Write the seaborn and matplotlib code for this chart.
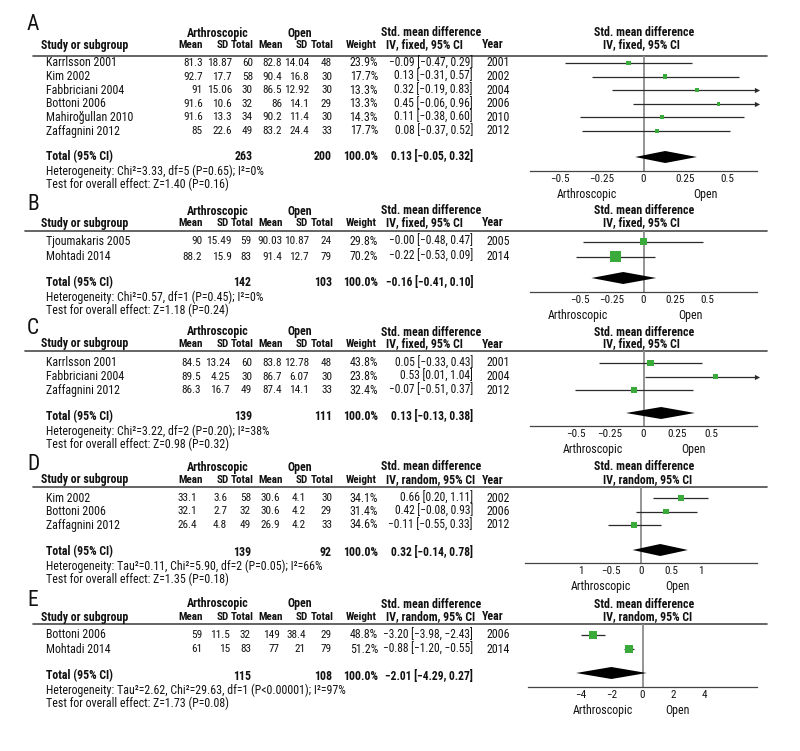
import os
import numpy as np
import pandas as pd
import matplotlib
matplotlib.use('Agg')
import matplotlib.pyplot as plt
import seaborn as sns
from matplotlib import font_manager
from matplotlib.font_manager import FontProperties

# ---------------- data ----------------
# A: fixed effect
A_study = ['Karrlsson 2001', 'Kim 2002', 'Fabbriciani 2004', 'Bottoni 2006', 'Mahiroğullan 2010', 'Zaffagnini 2012']
A_arth_mean = [81.3, 92.7, 91, 91.6, 91.6, 85]
A_arth_sd = [18.87, 17.7, 15.06, 10.6, 13.3, 22.6]
A_arth_n = [60, 58, 30, 32, 34, 49]
A_open_mean = [82.8, 90.4, 86.5, 86, 90.2, 83.2]
A_open_sd = [14.04, 16.8, 12.92, 14.1, 11.4, 24.4]
A_open_n = [48, 30, 30, 29, 30, 33]
A_weight = [23.9, 17.7, 13.3, 13.3, 14.3, 17.7]
A_smd = [-0.09, 0.13, 0.32, 0.45, 0.11, 0.08]
A_lo = [-0.47, -0.31, -0.19, -0.06, -0.38, -0.37]
A_hi = [0.29, 0.57, 0.83, 0.96, 0.60, 0.52]
A_year = [2001, 2002, 2004, 2006, 2010, 2012]
A_total = (263, 200, 0.13, -0.05, 0.32)
A_het = 'Heterogeneity: Chi²=3.33, df=5 (P=0.65); I²=0%'
A_z = 'Test for overall effect: Z=1.40 (P=0.16)'

# B: fixed effect
B_study = ['Tjoumakaris 2005', 'Mohtadi 2014']
B_arth_mean = [90, 88.2]
B_arth_sd = [15.49, 15.9]
B_arth_n = [59, 83]
B_open_mean = [90.03, 91.4]
B_open_sd = [10.87, 12.7]
B_open_n = [24, 79]
B_weight = [29.8, 70.2]
B_smd = [-0.0, -0.22]
B_lo = [-0.48, -0.53]
B_hi = [0.47, 0.09]
B_year = [2005, 2014]
B_total = (142, 103, -0.16, -0.41, 0.10)
B_het = 'Heterogeneity: Chi²=0.57, df=1 (P=0.45); I²=0%'
B_z = 'Test for overall effect: Z=1.18 (P=0.24)'

# C: fixed effect
C_study = ['Karrlsson 2001', 'Fabbriciani 2004', 'Zaffagnini 2012']
C_arth_mean = [84.5, 89.5, 86.3]
C_arth_sd = [13.24, 4.25, 16.7]
C_arth_n = [60, 30, 49]
C_open_mean = [83.8, 86.7, 87.4]
C_open_sd = [12.78, 6.07, 14.1]
C_open_n = [48, 30, 33]
C_weight = [43.8, 23.8, 32.4]
C_smd = [0.05, 0.53, -0.07]
C_lo = [-0.33, 0.01, -0.51]
C_hi = [0.43, 1.04, 0.37]
C_year = [2001, 2004, 2012]
C_total = (139, 111, 0.13, -0.13, 0.38)
C_het = 'Heterogeneity: Chi²=3.22, df=2 (P=0.20); I²=38%'
C_z = 'Test for overall effect: Z=0.98 (P=0.32)'

# D: random effects
D_study = ['Kim 2002', 'Bottoni 2006', 'Zaffagnini 2012']
D_arth_mean = [33.1, 32.1, 26.4]
D_arth_sd = [3.6, 2.7, 4.8]
D_arth_n = [58, 32, 49]
D_open_mean = [30.6, 30.6, 26.9]
D_open_sd = [4.1, 4.2, 4.2]
D_open_n = [30, 29, 33]
D_weight = [34.1, 31.4, 34.6]
D_smd = [0.66, 0.42, -0.11]
D_lo = [0.20, -0.08, -0.55]
D_hi = [1.11, 0.93, 0.33]
D_year = [2002, 2006, 2012]
D_total = (139, 92, 0.32, -0.14, 0.78)
D_het = 'Heterogeneity: Tau²=0.11, Chi²=5.90, df=2 (P=0.05); I²=66%'
D_z = 'Test for overall effect: Z=1.35 (P=0.18)'

# E: random effects
E_study = ['Bottoni 2006', 'Mohtadi 2014']
E_arth_mean = [59, 61]
E_arth_sd = [11.5, 15]
E_arth_n = [32, 83]
E_open_mean = [149, 77]
E_open_sd = [38.4, 21]
E_open_n = [29, 79]
E_weight = [48.8, 51.2]
E_smd = [-3.20, -0.88]
E_lo = [-3.98, -1.20]
E_hi = [-2.43, -0.55]
E_year = [2006, 2014]
E_total = (115, 108, -2.01, -4.29, 0.27)
E_het = 'Heterogeneity: Tau²=2.62, Chi²=29.63, df=1 (P<0.00001); I²=97%'
E_z = 'Test for overall effect: Z=1.73 (P=0.08)'

small_ticks = [-0.5, -0.25, 0, 0.25, 0.5]
small_labels = ['−0.5', '−0.25', '0', '0.25', '0.5']
D_ticks = [-1, -0.5, 0, 0.5, 1]
D_labels = ['1', '−0.5', '0', '0.5', '1']
E_ticks = [-4, -2, 0, 2, 4]
E_labels = ['−4', '−2', '0', '2', '4']

# ---------------- layout (pixels) ----------------
W, H = 800, 751
layout = {
    'A': dict(letter=25, h1=33, h2=45, rule=56, row0=63, step=13.6, total=157, diamond=157, axis=171,
              rule_x0=33, ax_left=530, xl=0.68, cols=[203, 232, 253, 282, 309, 332], arth=587, open=705),
    'B': dict(letter=205, h1=211, h2=223, rule=231, row0=241.5, step=15, total=283, diamond=278, axis=292,
              rule_x0=25, ax_left=530, xl=0.894, cols=[202, 232, 251, 282, 309, 332], arth=578, open=690),
    'C': dict(letter=328, h1=332, h2=344, rule=351, row0=363, step=13.6, total=417, diamond=413, axis=426,
              rule_x0=25, ax_left=530, xl=0.84, cols=[201, 230, 252, 282, 309, 332], arth=593, open=693),
    'D': dict(letter=464, h1=467, h2=480, rule=487, row0=498, step=13.5, total=552, diamond=550, axis=563,
              rule_x0=33, ax_left=525, xl=1.93, cols=[197, 227, 251, 280, 306, 332], arth=601, open=677),
    'E': dict(letter=600, h1=604, h2=617, rule=624, row0=635, step=14.3, total=676, diamond=673, axis=687,
              rule_x0=33, ax_left=528, xl=7.39, cols=[202, 230, 251, 280, 306, 332], arth=603, open=677),
}
head_cols = [203, 229, 254, 283, 308, 334, 377]
sq_scale = {'A': 1.02, 'B': 1.25, 'C': 1.05, 'D': 1.05, 'E': 1.13}

panels = {
    'A': (A_study, A_arth_mean, A_arth_sd, A_arth_n, A_open_mean, A_open_sd, A_open_n, A_weight,
          A_smd, A_lo, A_hi, A_year, A_total, A_het, A_z, 'fixed', small_ticks, small_labels),
    'B': (B_study, B_arth_mean, B_arth_sd, B_arth_n, B_open_mean, B_open_sd, B_open_n, B_weight,
          B_smd, B_lo, B_hi, B_year, B_total, B_het, B_z, 'fixed', small_ticks, small_labels),
    'C': (C_study, C_arth_mean, C_arth_sd, C_arth_n, C_open_mean, C_open_sd, C_open_n, C_weight,
          C_smd, C_lo, C_hi, C_year, C_total, C_het, C_z, 'fixed', small_ticks, small_labels),
    'D': (D_study, D_arth_mean, D_arth_sd, D_arth_n, D_open_mean, D_open_sd, D_open_n, D_weight,
          D_smd, D_lo, D_hi, D_year, D_total, D_het, D_z, 'random', D_ticks, D_labels),
    'E': (E_study, E_arth_mean, E_arth_sd, E_arth_n, E_open_mean, E_open_sd, E_open_n, E_weight,
          E_smd, E_lo, E_hi, E_year, E_total, E_het, E_z, 'random', E_ticks, E_labels),
}

# ---------------- fonts: look for a narrow face ----------------
sns.set_theme(style='white')
files = set(font_manager.findSystemFonts()) | {f.fname for f in font_manager.fontManager.ttflist}
by_base = {os.path.basename(f).lower(): f for f in files}
pairs = [
    ('liberationsansnarrow-regular.ttf', 'liberationsansnarrow-bold.ttf', 8.0),
    ('notosans-condensed.ttf', 'notosans-condensedbold.ttf', 7.8),
    ('robotocondensed-regular.ttf', 'robotocondensed-bold.ttf', 7.7),
    ('notosans-semicondensed.ttf', 'notosans-semicondensedbold.ttf', 7.4),
    ('dejavusanscondensed.ttf', 'dejavusanscondensed-bold.ttf', 7.0),
]
REG = BLD = None
FS = 7.0
for r, b, s in pairs:
    if r in by_base and b in by_base:
        REG, BLD, FS = by_base[r], by_base[b], s
        break
if REG is None:
    REG = font_manager.findfont(FontProperties(family='Liberation Sans'))
    BLD = font_manager.findfont(FontProperties(family='Liberation Sans', weight='bold'))
plt.rcParams['font.family'] = ['Liberation Sans', 'DejaVu Sans']
TFS = FS + 0.9   # labels, notes
CFS = FS + 0.6   # CI column
NFS = FS + 0.4   # crowded mean / SD / n columns
HFS = FS + 0.3   # bold column headers
KFS = FS + 0.3   # axis tick labels

TXT = '#111111'
GREEN = '#3aab3a'
LINE = '#2a2a2a'
GREY = '#8c8c8c'


def fprop(bold=False, size=TFS):
    return FontProperties(fname=BLD if bold else REG, size=size)


def num(v):
    return f'{v:g}'


def smd_txt(m, lo, hi):
    return f'{m:.2f} [{lo:.2f}, {hi:.2f}]'.replace('-', '−')


fig = plt.figure(figsize=(W / 100, H / 100), dpi=100)
base = fig.add_axes([0, 0, 1, 1])
base.set_xlim(0, W)
base.set_ylim(H, 0)
base.axis('off')


def txt(x, y, s, ha='left', bold=False, size=TFS):
    base.text(x, y, s, ha=ha, va='center', color=TXT, fontproperties=fprop(bold, size))


for key, p in panels.items():
    (study, am, asd, an, om, osd, on, wt, smd, lo, hi, year, total, het, ztxt,
     model, ticks, tlabels) = p
    L = layout[key]
    n = len(study)
    rows = [L['row0'] + i * L['step'] for i in range(n)]

    # letter + headers
    txt(27, L['letter'], key, size=15.5)
    txt(218, L['h1'], 'Arthroscopic', ha='center', bold=True)
    txt(300, L['h1'], 'Open', ha='center', bold=True)
    txt(431, L['h1'], 'Std. mean difference', ha='center', bold=True)
    txt(644, L['h1'], 'Std. mean difference', ha='center', bold=True)
    txt(41, L['h2'], 'Study or subgroup', bold=True)
    for xx, lab in zip(head_cols, ['Mean', 'SD', 'Total', 'Mean', 'SD', 'Total', 'Weight']):
        txt(xx, L['h2'], lab, ha='right', bold=True, size=HFS)
    txt(386, L['h2'], f'IV, {model}, 95% CI', bold=True)
    txt(493, L['h2'], 'Year', ha='center', bold=True)
    txt(603, L['h2'], f'IV, {model}, 95% CI', bold=True)
    base.plot([L['rule_x0'], 767], [L['rule'], L['rule']], color='#4a4a4a', lw=1.2)

    # study rows
    c = L['cols']
    for i, y in enumerate(rows):
        txt(46, y, study[i])
        vals = [num(am[i]), num(asd[i]), str(an[i]), num(om[i]), num(osd[i]), str(on[i])]
        for xx, v in zip(c, vals):
            txt(xx, y, v, ha='right', size=NFS)
        txt(378, y, f'{wt[i]:.1f}%', ha='right')
        txt(473, y, smd_txt(smd[i], lo[i], hi[i]), ha='right', size=CFS)
        txt(498, y, str(year[i]), ha='center')

    # total rows
    t = L['total']
    txt(46, t, 'Total (95% CI)', bold=True)
    txt(c[2], t, str(total[0]), ha='right', bold=True)
    txt(c[5], t, str(total[1]), ha='right', bold=True)
    txt(378, t, '100.0%', ha='right', bold=True)
    txt(473, t, smd_txt(*total[2:]), ha='right', bold=True, size=CFS)
    txt(46, t + 14, het)
    txt(46, t + 27, ztxt)

    # forest plot
    xl = L['xl']
    left, right = L['ax_left'], 757
    ax = fig.add_axes([left / W, 1 - L['axis'] / H, (right - left) / W, (L['axis'] - L['rule']) / H])
    ax.patch.set_alpha(0)
    ax.set_xlim(-xl, xl)
    ax.set_ylim(L['axis'], L['rule'])
    ax.axvline(0, color=GREY, lw=1.3, zorder=1)

    df = pd.DataFrame({'smd': smd, 'lo': lo, 'hi': hi, 'w': wt, 'y': rows})
    ax.hlines(df['y'], df['lo'].clip(-xl, xl), df['hi'].clip(-xl, xl), color=LINE, lw=0.9, zorder=2)
    over = df[df['hi'] > xl]
    ax.scatter(np.full(len(over), xl), over['y'], marker='>', s=14, color=LINE, lw=0, clip_on=False, zorder=2)
    under = df[df['lo'] < -xl]
    ax.scatter(np.full(len(under), -xl), under['y'], marker='<', s=14, color=LINE, lw=0, clip_on=False, zorder=2)
    side_pt = sq_scale[key] * np.sqrt(df['w']) * 0.72
    sns.scatterplot(x=df['smd'], y=df['y'], s=side_pt ** 2, marker='s', color=GREEN,
                    edgecolor='none', linewidth=0, legend=False, ax=ax, zorder=3)

    ps, plo, phi = total[2:]
    dy = L['diamond']
    ax.fill([plo, ps, phi, ps], [dy, dy - 6, dy, dy + 6], color='black', lw=0, zorder=4)

    for s in ['top', 'left', 'right']:
        ax.spines[s].set_visible(False)
    ax.spines['bottom'].set_color('#444444')
    ax.spines['bottom'].set_linewidth(0.9)
    ax.set_yticks([])
    ax.set_xticks(ticks)
    ax.set_xticklabels(tlabels)
    ax.tick_params(axis='x', direction='inout', length=4, width=0.8, color='#444444',
                   pad=0.3, labelcolor=TXT)
    ax.set_xlabel('')
    ax.set_ylabel('')
    for lab in ax.get_xticklabels():
        lab.set_fontproperties(fprop(size=KFS))

    txt(L['arth'], L['axis'] + 23.5, 'Arthroscopic', ha='center')
    txt(L['open'], L['axis'] + 23.5, 'Open', ha='center')

fig.savefig('out.png', dpi=100)
